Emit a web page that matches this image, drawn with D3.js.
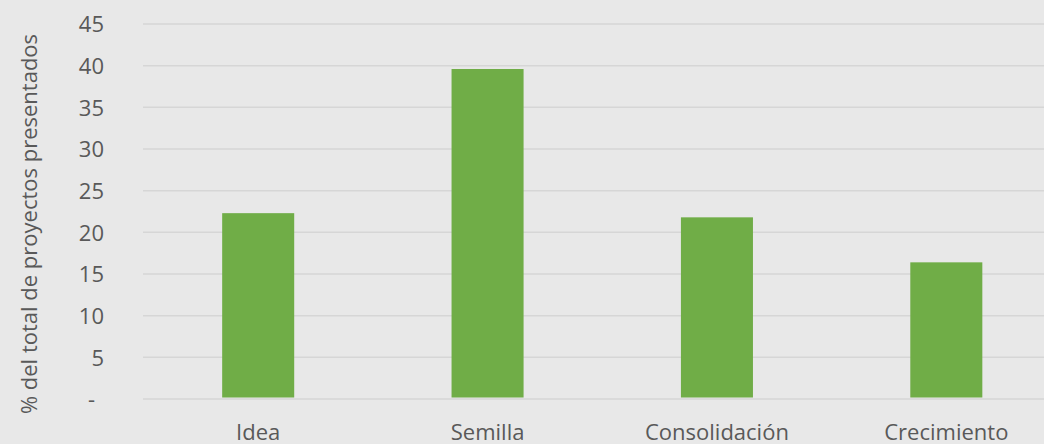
<!DOCTYPE html>
<html><head><meta charset="utf-8">
<script src="https://cdn.jsdelivr.net/npm/d3@7"></script>
<style>html,body{margin:0;padding:0;background:#e8e8e8;overflow:hidden}</style>
</head><body>
<svg id="c" width="1044" height="444"></svg>
<script>
const categories = ["Idea", "Semilla", "Consolidación", "Crecimiento"];
const values = [22.3, 39.6, 21.8, 16.4];
const yTicks = [0, 5, 10, 15, 20, 25, 30, 35, 40, 45];
const yTitle = "% del total de proyectos presentados";

const svg = d3.select("#c");
svg.append("rect").attr("width",1044).attr("height",444).attr("fill","#e8e8e8");
const x = d3.scaleBand().domain(categories).range([143.5, 1061]).paddingInner(0.686).paddingOuter(0.343);
const y = d3.scaleLinear().domain([0,45]).range([399, 24]);
const font = "'Open Sans', sans-serif";
const fs = "22px";

const grid = svg.append("g");
grid.selectAll("line").data(yTicks).join("line")
  .attr("x1",143).attr("x2",1044)
  .attr("y1",d=>y(d)).attr("y2",d=>y(d))
  .attr("stroke","#d6d6d6").attr("stroke-width",1.5);

svg.append("g").selectAll("rect").data(values).join("rect")
  .attr("x",(d,i)=>x(categories[i])).attr("width",x.bandwidth())
  .attr("y",d=>y(d)).attr("height",d=>y(0)-1.5-y(d))
  .attr("fill","#70ad47");

const yAxis = d3.axisLeft(y).tickValues(yTicks).tickSize(0).tickPadding(0)
  .tickFormat(d=> d===0 ? "-" : d);
const ya = svg.append("g").attr("transform","translate(104,0)").call(yAxis);
ya.select(".domain").remove();
ya.selectAll("text").attr("fill","#595959").style("font-family",font).style("font-size",fs).attr("dy","0.36em");
ya.selectAll(".tick").filter(d=>d===0).select("text").attr("dx","-9");

const xAxis = d3.axisBottom(x).tickSize(0).tickPadding(0);
const xa = svg.append("g").attr("transform","translate(0,440)").call(xAxis);
xa.select(".domain").remove();
xa.selectAll("text").attr("fill","#595959").style("font-family",font).style("font-size",fs).attr("y",0).attr("dy","0");

svg.append("text").attr("transform","translate(37,224) rotate(-90)")
  .attr("text-anchor","middle").attr("fill","#595959")
  .style("font-family",font).style("font-size",fs).text(yTitle);
</script>
</body></html>
